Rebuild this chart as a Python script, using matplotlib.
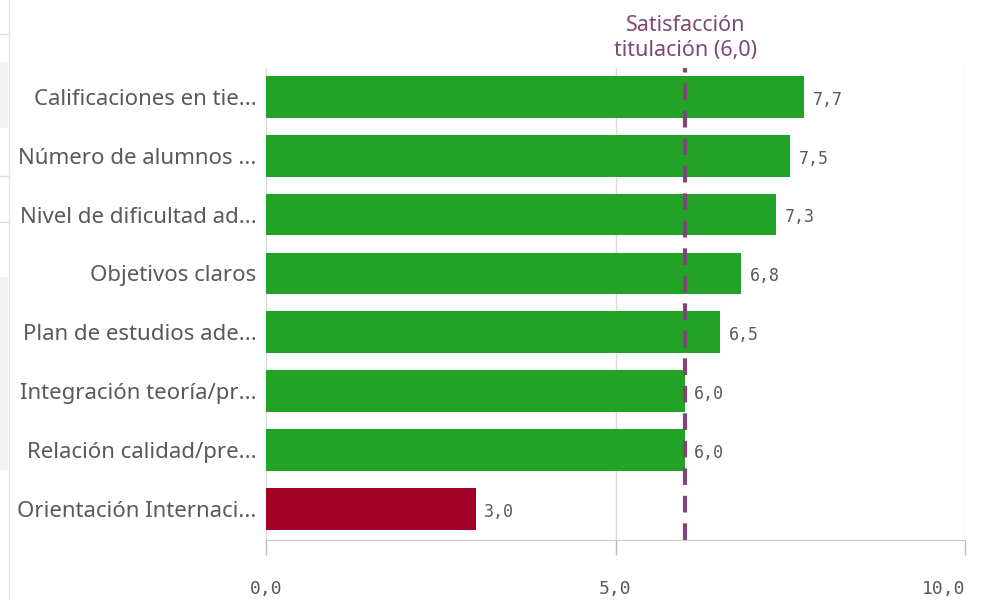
import numpy as np
import matplotlib.pyplot as plt
from matplotlib.patches import Rectangle

# data
categories = ['Calificaciones en tie...', 'Número de alumnos ...', 'Nivel de dificultad ad...',
              'Objetivos claros', 'Plan de estudios ade...', 'Integración teoría/pr...',
              'Relación calidad/pre...', 'Orientación Internaci...']
values = [7.7, 7.5, 7.3, 6.8, 6.5, 6.0, 6.0, 3.0]
ref_value = 6.0
ref_label = 'Satisfacción\ntitulación (6,0)'
xticks = [0, 5, 10]

green = '#22a227'
red = '#a30026'
purple = '#7e477a'
grey_txt = '#595959'

fig = plt.figure(figsize=(9.83, 6.0), dpi=100)
ax = fig.add_axes([266/983, 60/600, (965-266)/983, (540-68)/600])

# left strip artifacts of the dashboard
fig.add_artist(plt.Line2D([9/983, 9/983], [0, 1], color='#e6e6e6', lw=1))
for y0, y1 in [(62, 128), (277, 470)]:
    fig.add_artist(Rectangle((0, 1-y1/600), 8/983, (y1-y0)/600, color='#f2f2f2', lw=0))
for yl in [34, 176, 222]:
    fig.add_artist(plt.Line2D([0, 8/983], [1-yl/600, 1-yl/600], color='#e0e0e0', lw=1))

y = np.arange(len(categories))
colors = [green if v >= ref_value else red for v in values]
for xv in xticks:
    ax.axvline(xv, color='#d9d9d9', lw=1, zorder=0)
ax.barh(y, values, height=0.71, color=colors, zorder=2)
for yi, v in zip(y, values):
    ax.text(v + 0.12, yi + 0.05, f'{v:.1f}'.replace('.', ','), va='center', ha='left',
            fontsize=12, color=grey_txt, family='DejaVu Sans Mono')

ax.axvline(ref_value, color=purple, lw=3, ls=(0, (4, 2.6)), zorder=3)
ax.text(ref_value, 1.015, ref_label, transform=ax.get_xaxis_transform(), ha='center',
        va='bottom', fontsize=15.5, color=purple, family='Noto Sans', linespacing=1.25)

ax.set_xlim(0, 10)
ax.set_ylim(7.53, -0.49)
ax.set_yticks(y)
ax.set_yticklabels(categories, fontsize=16, color=grey_txt, family='Noto Sans')
ax.tick_params(axis='y', length=0, pad=7)
ax.set_xticks(xticks)
xl = ax.set_xticklabels([f'{t:.1f}'.replace('.', ',') for t in xticks], fontsize=13,
                        color=grey_txt, family='DejaVu Sans Mono')
xl[-1].set_horizontalalignment('right')
ax.tick_params(axis='x', length=11, width=1, color='#bbbbbb', pad=18)
for s in ['top', 'right', 'left']:
    ax.spines[s].set_visible(False)
ax.spines['bottom'].set_color('#cccccc')

fig.savefig('out.png', dpi=100)
